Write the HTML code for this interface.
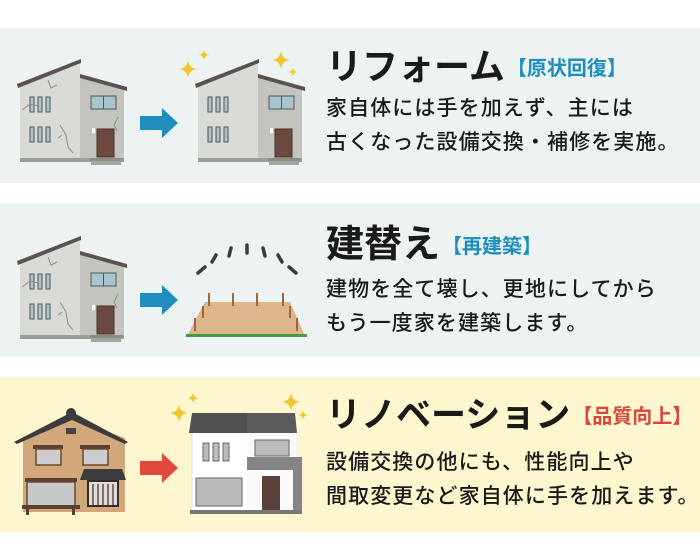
<!DOCTYPE html>
<html><head><meta charset="utf-8"><style>
body{margin:0;width:700px;height:559px;background:#fff;position:relative;overflow:hidden;font-family:"Liberation Sans","Noto Sans CJK JP",sans-serif;color:#1a1a1a}
.p{position:absolute;left:0;width:700px}
.t{position:absolute;left:326px;font-weight:bold;white-space:nowrap;line-height:1}
.t span{font-size:20px;vertical-align:4px;margin-left:2px}
.b{position:absolute;left:326px;font-size:21px;letter-spacing:1.1px;line-height:34px;white-space:nowrap;font-weight:500}
svg{position:absolute;left:0;top:0}
</style></head><body>
<div class="p" style="top:28px;height:155px;background:#edf3f2"></div>
<div class="p" style="top:203px;height:154px;background:#edf3f2"></div>
<div class="p" style="top:377px;height:155px;background:#fdf6cf"></div>

<svg width="700" height="559" viewBox="0 0 700 559">
<defs>
<g id="h">
 <polygon points="20,86 80,64 80,160 20,160" fill="#d9d9d6"/>
 <polygon points="80,78 124,90 124,160 80,160" fill="#c4c4bf"/>
 <polygon points="17,84 81,59 81,63 18,88" fill="#5a5250"/>
 <polygon points="80,74 127,87 127,91 80,78" fill="#5a5250"/>
 <g fill="#a8c4cc" stroke="#555" stroke-width="1">
  <rect x="30" y="97" width="4" height="15"/><rect x="38" y="97" width="4" height="15"/><rect x="46" y="97" width="4" height="15"/>
  <rect x="30" y="127" width="4" height="15"/><rect x="38" y="127" width="4" height="15"/><rect x="46" y="127" width="4" height="15"/>
  <rect x="91" y="96" width="25" height="13"/><line x1="103.5" y1="96" x2="103.5" y2="109"/>
 </g>
 <rect x="97" y="129" width="17" height="28" fill="#6b4a3f" stroke="#4a3029"/>
 <rect x="92" y="128" width="3" height="5" fill="#fff"/>
 <rect x="20" y="158" width="104" height="4" fill="#9d9d98"/>
 <rect x="90" y="158" width="32" height="3" fill="#8d8d88"/>
 <rect x="91" y="161" width="30" height="4" fill="#a5a5a0"/>
</g>
<g id="cr" fill="none" stroke="#8d8d88" stroke-width="1">
 <path d="M48,80 l3,8 l6,-3 M22,110 l8,-6 l8,2 M60,125 l6,10 l2,12 l5,6 M62,135 l-4,3 M118,117 l-4,8 l3,6"/>
</g>
<g id="sp"><path d="M0,-9 Q1,-1 9,0 Q1,1 0,9 Q-1,1 -9,0 Q-1,-1 0,-9Z" fill="#f2c530"/></g>
</defs>

<use href="#h"/><use href="#cr"/>
<polygon points="140,116 162,116 162,108 178,123 162,138 162,130 140,130" fill="#1d8ebd"/>
<use href="#h" transform="translate(178,0)"/>
<use href="#sp" transform="translate(188,69)"/>
<use href="#sp" transform="translate(204,55) scale(.6)"/>
<use href="#sp" transform="translate(281,60)"/>
<use href="#sp" transform="translate(293,72) scale(.5)"/>

<use href="#h" transform="translate(0,177)"/><use href="#cr" transform="translate(0,177)"/>
<polygon points="140,293 162,293 162,285 178,300 162,315 162,307 140,307" fill="#1d8ebd"/>
<polygon points="205,302 290,302 305,336 187,336" fill="#dcb58b"/>
<rect x="186" y="334" width="121" height="3" fill="#3f9d3f"/>
<g stroke="#a0663a" stroke-width="2">
<line x1="209" y1="293" x2="209" y2="306"/><line x1="233" y1="293" x2="233" y2="306"/><line x1="257" y1="293" x2="257" y2="306"/><line x1="283" y1="293" x2="283" y2="306"/>
<line x1="203" y1="306" x2="203" y2="318"/><line x1="290" y1="306" x2="290" y2="318"/>
<line x1="195" y1="318" x2="195" y2="331"/><line x1="297" y1="318" x2="297" y2="331"/>
</g>
<g stroke="#3c3c3c" stroke-width="3.5" stroke-linecap="round">
<line x1="198" y1="273" x2="205" y2="267"/><line x1="212" y1="262" x2="216" y2="255"/><line x1="229" y1="256" x2="231" y2="248"/><line x1="247" y1="253" x2="247" y2="245"/><line x1="265" y1="256" x2="263" y2="248"/><line x1="282" y1="262" x2="278" y2="255"/><line x1="296" y1="273" x2="289" y2="267"/>
</g>

<g>
 <polygon points="23,438 72,418 125,438 125,512 23,512" fill="#d2a779"/>
 <polygon points="14,442 70,413 74,413 128,442 125,444 72,420 17,444" fill="#3c3c3c"/>
 <circle cx="71" cy="413" r="5" fill="#3c3c3c"/>
 <rect x="66" y="428" width="10" height="6" fill="#444"/>
 <rect x="33" y="445" width="30" height="4" fill="#5a4030"/>
 <rect x="36" y="449" width="25" height="16" fill="#ccc" stroke="#6a4a30" stroke-width="1.5"/>
 <rect x="80" y="445" width="30" height="4" fill="#5a4030"/>
 <rect x="83" y="449" width="25" height="16" fill="#ccc" stroke="#6a4a30" stroke-width="1.5"/>
 <polygon points="84,469 122,469 126,480 80,480" fill="#3c3c3c"/>
 <rect x="25" y="478" width="52" height="4" fill="#5a4030"/>
 <rect x="27" y="482" width="48" height="24" fill="#c8c8c8" stroke="#6a4a30" stroke-width="1.5"/>
 <rect x="88" y="481" width="30" height="25" fill="#ddd" stroke="#3a2a20" stroke-width="2"/>
 <g stroke="#3a2a20" stroke-width="1.2"><line x1="93" y1="484" x2="93" y2="505"/><line x1="98" y1="484" x2="98" y2="505"/><line x1="103" y1="484" x2="103" y2="505"/><line x1="108" y1="484" x2="108" y2="505"/><line x1="113" y1="484" x2="113" y2="505"/></g>
 <rect x="22" y="505" width="58" height="4" fill="#5a4030"/>
 <rect x="26" y="509" width="3" height="6" fill="#5a4030"/><rect x="72" y="509" width="3" height="6" fill="#5a4030"/>
</g>
<polygon points="140,461 162,461 162,453 178,468 162,483 162,475 140,475" fill="#e0493a"/>
<g>
 <rect x="192" y="432" width="56" height="80" fill="#fff" stroke="#ddd"/>
 <polygon points="192,413 247,413 247,433 189,433" fill="#505050"/>
 <rect x="247" y="432" width="50" height="80" fill="#fafafa"/>
 <polygon points="247,413 295,413 297,433 247,433" fill="#5c5c5c"/>
 <g fill="#bbb" stroke="#666"><rect x="203" y="443" width="6" height="18"/><rect x="213" y="443" width="6" height="18"/><rect x="223" y="443" width="6" height="18"/>
 <rect x="255" y="440" width="34" height="16"/><rect x="196" y="478" width="46" height="28"/></g>
 <rect x="247" y="457" width="55" height="13" fill="#858585"/>
 <rect x="293" y="470" width="9" height="42" fill="#858585"/>
 <rect x="262" y="476" width="18" height="36" fill="#5a403a"/>
 <rect x="190" y="510" width="112" height="4" fill="#777"/>
</g>
<use href="#sp" transform="translate(179,413)"/>
<use href="#sp" transform="translate(193,398) scale(.6)"/>
<use href="#sp" transform="translate(291,402)"/>
<use href="#sp" transform="translate(303,415) scale(.5)"/>
</svg>

<div class="t" style="top:49px;font-size:36px">リフォーム<span style="color:#1d8ebd">【原状回復】</span></div>
<div class="b" style="top:92px">家自体には手を加えず、主には<br>古くなった設備交換・補修を実施。</div>

<div class="t" style="top:226px;font-size:38px">建替え<span style="color:#1d8ebd">【再建築】</span></div>
<div class="b" style="top:273px">建物を全て壊し、更地にしてから<br>もう一度家を建築します。</div>

<div class="t" style="top:398px;font-size:35px">リノベーション<span style="color:#d9463a">【品質向上】</span></div>
<div class="b" style="top:446px">設備交換の他にも、性能向上や<br>間取変更など家自体に手を加えます。</div>
</body></html>
